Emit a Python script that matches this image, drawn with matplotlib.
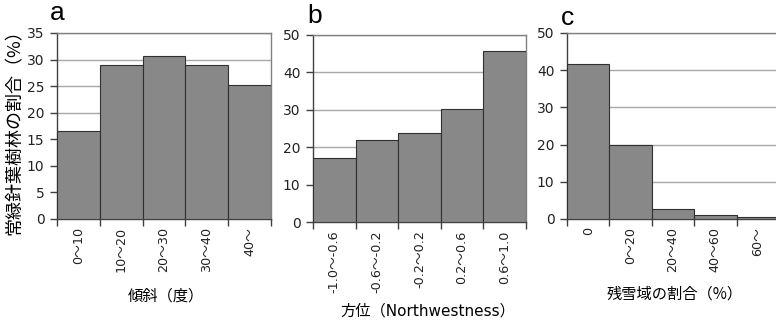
import matplotlib
matplotlib.use("Agg")
import matplotlib.pyplot as plt
import numpy as np

plt.rcParams['font.family'] = ['DejaVu Sans', 'Noto Sans CJK JP']

# データ
slope_labels = ["0〜10", "10〜20", "20〜30", "30〜40", "40〜"]
slope_vals = [16.5, 29.0, 30.6, 28.9, 25.3]

aspect_labels = ["-1.0〜-0.6", "-0.6〜-0.2", "-0.2〜0.2", "0.2〜0.6", "0.6〜1.0"]
aspect_vals = [17.0, 21.9, 23.7, 30.1, 45.7]

snow_labels = ["0", "0〜20", "20〜40", "40〜60", "60〜"]
snow_vals = [41.7, 20.0, 2.8, 1.2, 0.45]

W, H = 776, 323
fig = plt.figure(figsize=(W / 100, H / 100), dpi=100)


def px_axes(left, top, right, bottom):
    return fig.add_axes([left / W, 1 - bottom / H, (right - left) / W, (bottom - top) / H])


def draw(ax, vals, labels, ymax, ystep):
    x = np.arange(len(vals))
    ax.bar(x, vals, width=1.0, color="#888888", edgecolor="#303030", linewidth=0.8, zorder=3)
    ax.set_xlim(-0.5, len(vals) - 0.5)
    ax.set_ylim(0, ymax)
    ax.set_yticks(np.arange(0, ymax + 0.1, ystep))
    ax.yaxis.grid(True, color="#a8a8a8", linewidth=1.0, zorder=0)
    ax.set_axisbelow(True)
    ax.set_xticks(x)
    ax.set_xticklabels(labels, rotation=90, fontsize=9.2, color="#222222")
    ax.set_xticks(np.arange(-0.5, len(vals)), minor=True)
    ax.tick_params(axis="x", which="major", length=0, pad=6)
    ax.tick_params(axis="x", which="minor", length=5, width=1, color="#404040", direction="out")
    ax.tick_params(axis="y", length=5, width=1, color="#404040", labelsize=10, labelcolor="#222222", pad=4)
    for s in ["left", "bottom"]:
        ax.spines[s].set_color("#404040")
        ax.spines[s].set_linewidth(1.0)
    for s in ["top", "right"]:
        ax.spines[s].set_color("#808080")
        ax.spines[s].set_linewidth(1.0)


ax1 = px_axes(57, 33, 271, 219)
draw(ax1, slope_vals, slope_labels, 35, 5)
ax2 = px_axes(313, 35, 526, 222)
draw(ax2, aspect_vals, aspect_labels, 50, 10)
ax3 = px_axes(567, 33, 779, 219)
draw(ax3, snow_vals, snow_labels, 50, 10)

# パネル記号
fig.text(50 / W, 1 - 20 / H, "a", fontsize=19, family="Liberation Sans", va="baseline", ha="left")
fig.text(307 / W, 1 - 23 / H, "b", fontsize=19, family="Liberation Sans", va="baseline", ha="left")
fig.text(561 / W, 1 - 25 / H, "c", fontsize=19, family="Liberation Sans", va="baseline", ha="left")

# 軸ラベル
fig.text(15 / W, 1 - 128 / H, "常緑針葉樹林の割合（%）", rotation=90, fontsize=13,
         family=["Noto Sans CJK JP"], ha="center", va="center")
fig.text(166 / W, 1 - 296 / H, "傾斜（度）", fontsize=11,
         family=["Noto Sans CJK JP"], ha="center", va="center")
fig.text(428 / W, 1 - 311 / H, "方位（Northwestness）", fontsize=11,
         family=["DejaVu Sans", "Noto Sans CJK JP"], ha="center", va="center")
fig.text(675 / W, 1 - 294 / H, "残雪域の割合（%）", fontsize=11,
         family=["Noto Sans CJK JP"], ha="center", va="center")

fig.savefig("out.png", dpi=100)
